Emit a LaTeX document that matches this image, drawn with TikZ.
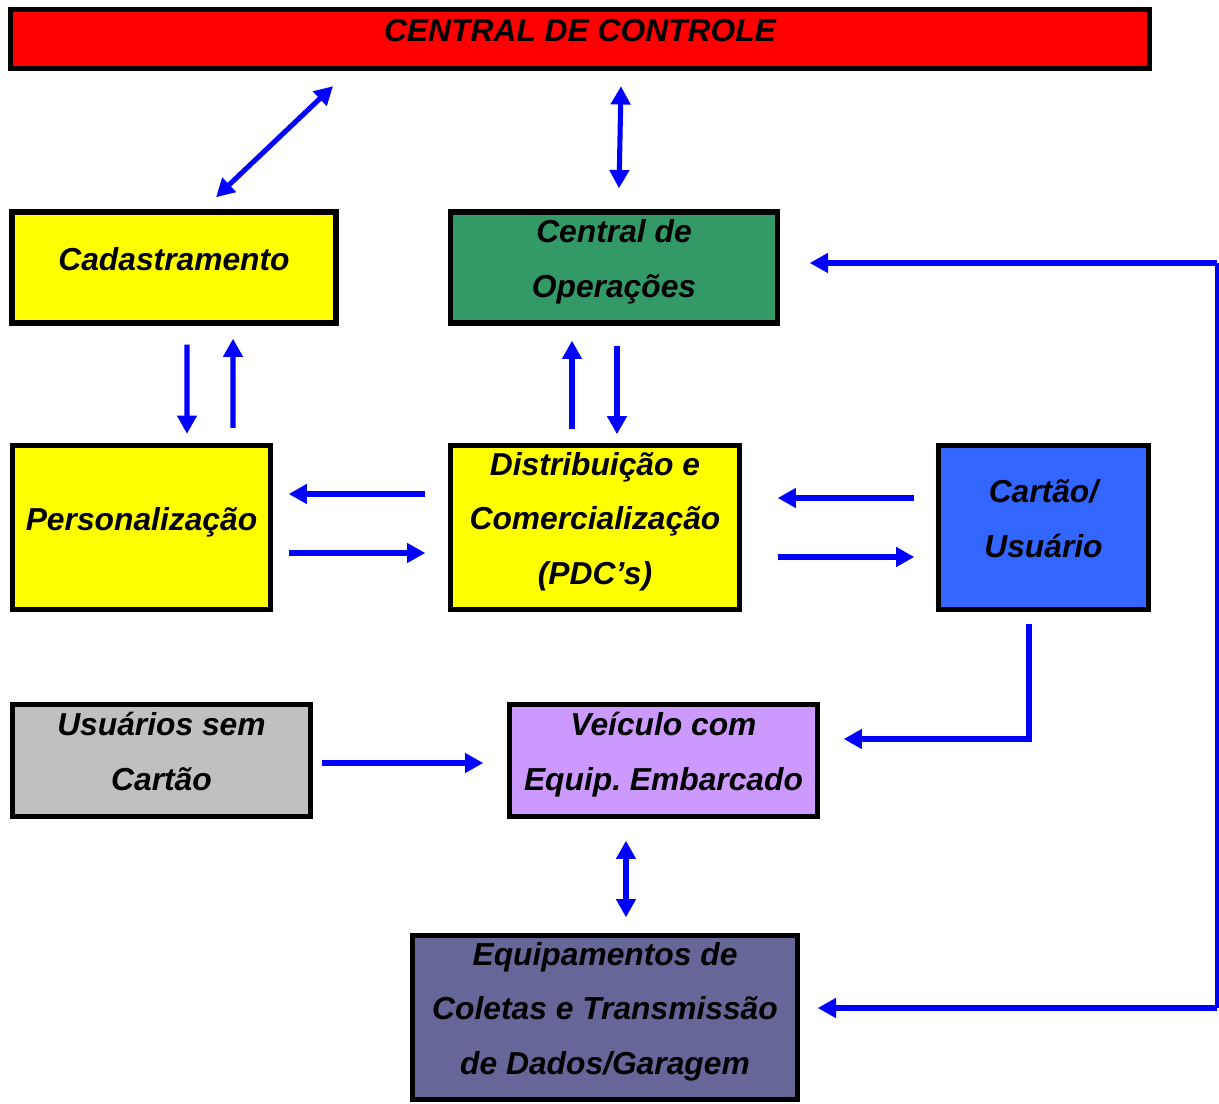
\documentclass[tikz,border=0pt]{standalone}
\usepackage{fontspec}
\setmainfont{Liberation Sans}
\usetikzlibrary{arrows.meta}

\definecolor{ctrlred}{HTML}{FF0000}
\definecolor{boxyellow}{HTML}{FFFF00}
\definecolor{opsgreen}{HTML}{339966}
\definecolor{cardblue}{HTML}{3366FF}
\definecolor{usergray}{HTML}{C0C0C0}
\definecolor{vehlilac}{HTML}{CC99FF}
\definecolor{equipslate}{HTML}{666699}
\definecolor{linkblue}{HTML}{0000FF}

\tikzset{
  box/.style={draw=black, line width=3.8pt, inner sep=0pt, align=center,
    font=\fontsize{22.6}{39}\selectfont\bfseries\itshape,
    execute at begin node={\rule{0pt}{17pt}},
    execute at end node={\rule[-13pt]{0pt}{13pt}}},
  link/.style={draw=linkblue, line width=3.6pt},
  arr/.style={link, -{Triangle[length=13pt,width=13.5pt]}},
  dblarr/.style={link, {Triangle[length=13pt,width=13.5pt]}-{Triangle[length=13pt,width=13.5pt]}},
  thinlink/.style={draw=linkblue, line width=2.2pt}
}

\begin{document}
\begin{tikzpicture}[x=0.025cm,y=-0.025cm]
  \useasboundingbox (0,0) rectangle (1219,1104);

  \node[box, fill=ctrlred, minimum width=28.475cm, minimum height=1.475cm] (ctrl) at (580,39) {CENTRAL DE CONTROLE};
  \node[box, fill=boxyellow, minimum width=8.1cm, minimum height=2.775cm] (cad) at (174,267.5) {Cadastramento};
  \node[box, fill=opsgreen, minimum width=8.175cm, minimum height=2.775cm] (ops) at (614,267.5) {Central de\\Operações};
  \node[box, fill=boxyellow, minimum width=6.45cm, minimum height=4.1cm] (pers) at (141.5,527.5) {Personalização};
  \node[box, fill=boxyellow, minimum width=7.225cm, minimum height=4.1cm] (dist) at (595,527.5) {Distribuição e\\Comercialização\\(PDC’s)};
  \node[box, fill=cardblue, minimum width=5.25cm, minimum height=4.1cm] (card) at (1043.5,527.5) {Cartão/\\Usuário};
  \node[box, fill=usergray, minimum width=7.45cm, minimum height=2.8cm] (semc) at (161.5,760.5) {Usuários sem\\Cartão};
  \node[box, fill=vehlilac, minimum width=7.7cm, minimum height=2.8cm] (veic) at (663.5,760.5) {Veículo com\\Equip.\ Embarcado};
  \node[box, fill=equipslate, minimum width=9.625cm, minimum height=4.1cm] (equip) at (605,1017.5) {Equipamentos de\\Coletas e Transmissão\\de Dados/Garagem};

  \coordinate (rtop) at (1217,263);
  \coordinate (rbot) at (1217,1008);

  \draw[dblarr] ([shift={(42,-12)}]cad.north) -- ([shift={(-247,15)}]ctrl.south);
  \draw[dblarr] ([shift={(41,15)}]ctrl.south) -- ([shift={(5,-21)}]ops.north);
  \draw[arr] ([shift={(13,19)}]cad.south) -- ([shift={(45.5,-9)}]pers.north);
  \draw[arr] ([shift={(91.5,-15)}]pers.north) -- ([shift={(59,13)}]cad.south);
  \draw[arr] ([shift={(-23,-13.5)}]dist.north) -- ([shift={(-42,15)}]ops.south);
  \draw[arr] ([shift={(3,20)}]ops.south) -- ([shift={(22,-8.5)}]dist.north);
  \draw[arr] ([shift={(-22.5,-33.5)}]dist.west) -- ([shift={(15.5,-33.5)}]pers.east);
  \draw[arr] ([shift={(15.5,25.5)}]pers.east) -- ([shift={(-22.5,25.5)}]dist.west);
  \draw[arr] ([shift={(-21.5,-29.5)}]card.west) -- ([shift={(35.5,-29.5)}]dist.east);
  \draw[arr] ([shift={(35.5,29.5)}]dist.east) -- ([shift={(-21.5,29.5)}]card.west);
  \draw[arr] ([shift={(-14.5,11.5)}]card.south) |- ([shift={(23.5,-21.5)}]veic.east);
  \draw[arr] ([shift={(8.5,2.5)}]semc.east) -- ([shift={(-23.5,2.5)}]veic.west);
  \draw[dblarr] ([shift={(-37.5,21.5)}]veic.south) -- ([shift={(21,-15.5)}]equip.north);
  \draw[thinlink] (rtop) -- (rbot);
  \draw[arr] (rtop) -- ([shift={(29.5,-4.5)}]ops.east);
  \draw[arr] (rbot) -- ([shift={(17.5,-9.5)}]equip.east);
\end{tikzpicture}
\end{document}
